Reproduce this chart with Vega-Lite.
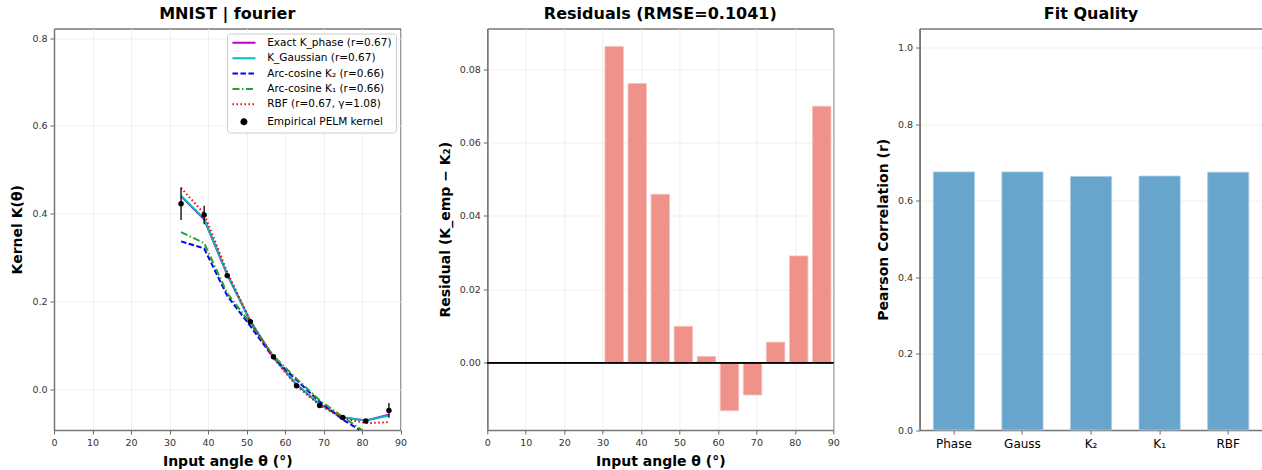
{
  "$schema": "https://vega.github.io/schema/vega-lite/v6.json",
  "autosize": {"type": "pad"},
  "padding": {"left": 10, "top": 4.5, "right": 0, "bottom": 0},
  "background": "white",
  "bounds": "flush",
  "spacing": 86.3,
  "resolve": {"scale": {"color": "independent", "strokeDash": "independent", "shape": "independent"}, "legend": {"color": "independent", "strokeDash": "independent", "shape": "independent"}},
  "config": {
    "font": "DejaVu Sans",
    "view": {"stroke": "#333333", "strokeWidth": 1},
    "title": {"fontSize": 16, "fontWeight": "bold", "font": "DejaVu Sans", "color": "black", "offset": 7},
    "axis": {
      "labelFont": "DejaVu Sans", "labelFontSize": 9.5, "labelColor": "#333333",
      "titleFont": "DejaVu Sans", "titleFontSize": 14, "titleFontWeight": "bold", "titleColor": "black",
      "gridColor": "#ebebeb", "gridWidth": 0.8,
      "domainColor": "#777777", "domainWidth": 1.5,
      "tickColor": "#666666", "tickSize": 4, "tickWidth": 1,
      "labelPadding": 3, "titlePadding": 7, "labelOverlap": false
    },
    "axisX": {"titlePadding": 8, "labelFlush": false},
    "legend": {
      "labelFont": "DejaVu Sans", "labelFontSize": 10.5, "labelColor": "black",
      "padding": 4, "fillColor": "white", "strokeColor": "#cccccc", "cornerRadius": 3,
      "rowPadding": 4.4, "symbolSize": 25, "symbolOffset": 7.7, "labelOffset": 18,
      "symbolStrokeWidth": 2, "offset": 5, "orient": "top-right"
    }
  },
  "datasets": {
    "lines": [
      {"series": "Exact K_phase (r=0.67)", "theta": 33, "K": 0.440},
      {"series": "Exact K_phase (r=0.67)", "theta": 39, "K": 0.387},
      {"series": "Exact K_phase (r=0.67)", "theta": 45, "K": 0.261},
      {"series": "Exact K_phase (r=0.67)", "theta": 51, "K": 0.155},
      {"series": "Exact K_phase (r=0.67)", "theta": 57, "K": 0.073},
      {"series": "Exact K_phase (r=0.67)", "theta": 63, "K": 0.011},
      {"series": "Exact K_phase (r=0.67)", "theta": 69, "K": -0.034},
      {"series": "Exact K_phase (r=0.67)", "theta": 75, "K": -0.064},
      {"series": "Exact K_phase (r=0.67)", "theta": 81, "K": -0.071},
      {"series": "Exact K_phase (r=0.67)", "theta": 87, "K": -0.058},
      {"series": "K_Gaussian (r=0.67)", "theta": 33, "K": 0.441},
      {"series": "K_Gaussian (r=0.67)", "theta": 39, "K": 0.389},
      {"series": "K_Gaussian (r=0.67)", "theta": 45, "K": 0.262},
      {"series": "K_Gaussian (r=0.67)", "theta": 51, "K": 0.155},
      {"series": "K_Gaussian (r=0.67)", "theta": 57, "K": 0.073},
      {"series": "K_Gaussian (r=0.67)", "theta": 63, "K": 0.011},
      {"series": "K_Gaussian (r=0.67)", "theta": 69, "K": -0.034},
      {"series": "K_Gaussian (r=0.67)", "theta": 75, "K": -0.064},
      {"series": "K_Gaussian (r=0.67)", "theta": 81, "K": -0.071},
      {"series": "K_Gaussian (r=0.67)", "theta": 87, "K": -0.060},
      {"series": "Arc-cosine K₂ (r=0.66)", "theta": 33, "K": 0.337},
      {"series": "Arc-cosine K₂ (r=0.66)", "theta": 39, "K": 0.321},
      {"series": "Arc-cosine K₂ (r=0.66)", "theta": 45, "K": 0.213},
      {"series": "Arc-cosine K₂ (r=0.66)", "theta": 51, "K": 0.144},
      {"series": "Arc-cosine K₂ (r=0.66)", "theta": 57, "K": 0.072},
      {"series": "Arc-cosine K₂ (r=0.66)", "theta": 63, "K": 0.021},
      {"series": "Arc-cosine K₂ (r=0.66)", "theta": 69, "K": -0.028},
      {"series": "Arc-cosine K₂ (r=0.66)", "theta": 75, "K": -0.069},
      {"series": "Arc-cosine K₂ (r=0.66)", "theta": 81, "K": -0.101},
      {"series": "Arc-cosine K₂ (r=0.66)", "theta": 87, "K": -0.118},
      {"series": "Arc-cosine K₁ (r=0.66)", "theta": 33, "K": 0.358},
      {"series": "Arc-cosine K₁ (r=0.66)", "theta": 39, "K": 0.333},
      {"series": "Arc-cosine K₁ (r=0.66)", "theta": 45, "K": 0.219},
      {"series": "Arc-cosine K₁ (r=0.66)", "theta": 51, "K": 0.150},
      {"series": "Arc-cosine K₁ (r=0.66)", "theta": 57, "K": 0.076},
      {"series": "Arc-cosine K₁ (r=0.66)", "theta": 63, "K": 0.024},
      {"series": "Arc-cosine K₁ (r=0.66)", "theta": 69, "K": -0.025},
      {"series": "Arc-cosine K₁ (r=0.66)", "theta": 75, "K": -0.063},
      {"series": "Arc-cosine K₁ (r=0.66)", "theta": 81, "K": -0.099},
      {"series": "Arc-cosine K₁ (r=0.66)", "theta": 87, "K": -0.125},
      {"series": "RBF (r=0.67, γ=1.08)", "theta": 33, "K": 0.459},
      {"series": "RBF (r=0.67, γ=1.08)", "theta": 39, "K": 0.400},
      {"series": "RBF (r=0.67, γ=1.08)", "theta": 45, "K": 0.267},
      {"series": "RBF (r=0.67, γ=1.08)", "theta": 51, "K": 0.156},
      {"series": "RBF (r=0.67, γ=1.08)", "theta": 57, "K": 0.071},
      {"series": "RBF (r=0.67, γ=1.08)", "theta": 63, "K": 0.008},
      {"series": "RBF (r=0.67, γ=1.08)", "theta": 69, "K": -0.036},
      {"series": "RBF (r=0.67, γ=1.08)", "theta": 75, "K": -0.066},
      {"series": "RBF (r=0.67, γ=1.08)", "theta": 81, "K": -0.077},
      {"series": "RBF (r=0.67, γ=1.08)", "theta": 87, "K": -0.075}
    ],
    "emp": [
      {"series": "Empirical PELM kernel", "theta": 33, "K": 0.423, "err": 0.037},
      {"series": "Empirical PELM kernel", "theta": 39, "K": 0.397, "err": 0.021},
      {"series": "Empirical PELM kernel", "theta": 45, "K": 0.259, "err": 0.006},
      {"series": "Empirical PELM kernel", "theta": 51, "K": 0.154, "err": 0.004},
      {"series": "Empirical PELM kernel", "theta": 57, "K": 0.074, "err": 0.003},
      {"series": "Empirical PELM kernel", "theta": 63, "K": 0.008, "err": 0.003},
      {"series": "Empirical PELM kernel", "theta": 69, "K": -0.037, "err": 0.003},
      {"series": "Empirical PELM kernel", "theta": 75, "K": -0.064, "err": 0.003},
      {"series": "Empirical PELM kernel", "theta": 81, "K": -0.072, "err": 0.003},
      {"series": "Empirical PELM kernel", "theta": 87, "K": -0.048, "err": 0.017}
    ],
    "resid": [
      {"theta": 33, "resid": 0.0862},
      {"theta": 39, "resid": 0.0761},
      {"theta": 45, "resid": 0.0459},
      {"theta": 51, "resid": 0.0099},
      {"theta": 57, "resid": 0.0017},
      {"theta": 63, "resid": -0.0131},
      {"theta": 69, "resid": -0.0088},
      {"theta": 75, "resid": 0.0056},
      {"theta": 81, "resid": 0.0291},
      {"theta": 87, "resid": 0.0699}
    ],
    "fit": [
      {"model": "Phase", "r": 0.675},
      {"model": "Gauss", "r": 0.675},
      {"model": "K₂", "r": 0.663},
      {"model": "K₁", "r": 0.664},
      {"model": "RBF", "r": 0.674}
    ]
  },
  "hconcat": [
    {
      "width": 346.5,
      "height": 401.5,
      "title": "MNIST | fourier",
      "layer": [
        {
          "data": {"name": "lines"},
          "mark": {"type": "line", "clip": true, "strokeWidth": 2},
          "encoding": {
            "x": {"field": "theta", "type": "quantitative", "scale": {"domain": [0, 90], "nice": false, "zero": false}, "axis": {"values": [0, 10, 20, 30, 40, 50, 60, 70, 80, 90], "title": "Input angle θ (°)"}},
            "y": {"field": "K", "type": "quantitative", "scale": {"domain": [-0.0927, 0.822], "nice": false, "zero": false}, "axis": {"values": [0, 0.2, 0.4, 0.6, 0.8], "format": ".1f", "title": "Kernel K(θ)"}},
            "color": {
              "field": "series", "type": "nominal", "sort": null,
              "scale": {"domain": ["Exact K_phase (r=0.67)", "K_Gaussian (r=0.67)", "Arc-cosine K₂ (r=0.66)", "Arc-cosine K₁ (r=0.66)", "RBF (r=0.67, γ=1.08)", "Empirical PELM kernel"],
                        "range": ["#bf00bf", "#00bfbf", "#0000ff", "#2ca02c", "#ff0000", "#000000"]},
              "legend": {"title": null}
            },
            "strokeDash": {
              "field": "series", "type": "nominal", "sort": null,
              "scale": {"domain": ["Exact K_phase (r=0.67)", "K_Gaussian (r=0.67)", "Arc-cosine K₂ (r=0.66)", "Arc-cosine K₁ (r=0.66)", "RBF (r=0.67, γ=1.08)", "Empirical PELM kernel"],
                        "range": [[1, 0], [1, 0], [5.5, 2.5], [7, 2.5, 1.5, 2.5], [1.5, 2.5], [1, 0]]},
              "legend": {"title": null}
            }
          }
        },
        {
          "mark": {"type": "rule", "color": "#b0b0b0", "strokeDash": [2, 2], "strokeWidth": 0.8},
          "encoding": {
            "y": {"datum": 0, "type": "quantitative", "axis": {"values": [0, 0.2, 0.4, 0.6, 0.8], "format": ".1f", "title": "Kernel K(θ)"}}
          }
        },
        {
          "data": {"name": "emp"},
          "mark": {"type": "errorbar", "color": "black", "thickness": 1.3},
          "encoding": {
            "x": {"field": "theta", "type": "quantitative", "axis": {"values": [0, 10, 20, 30, 40, 50, 60, 70, 80, 90], "title": "Input angle θ (°)"}},
            "y": {"field": "K", "type": "quantitative", "title": "Kernel K(θ)", "axis": {"values": [0, 0.2, 0.4, 0.6, 0.8], "format": ".1f", "title": "Kernel K(θ)"}},
            "yError": {"field": "err"}
          }
        },
        {
          "data": {"name": "emp"},
          "mark": {"type": "point", "filled": true, "size": 30, "opacity": 1},
          "encoding": {
            "x": {"field": "theta", "type": "quantitative", "axis": {"values": [0, 10, 20, 30, 40, 50, 60, 70, 80, 90], "title": "Input angle θ (°)"}},
            "y": {"field": "K", "type": "quantitative", "axis": {"values": [0, 0.2, 0.4, 0.6, 0.8], "format": ".1f", "title": "Kernel K(θ)"}},
            "color": {"field": "series", "type": "nominal", "sort": null, "legend": {"title": null}},
            "shape": {
              "field": "series", "type": "nominal", "sort": null,
              "scale": {"domain": ["Exact K_phase (r=0.67)", "K_Gaussian (r=0.67)", "Arc-cosine K₂ (r=0.66)", "Arc-cosine K₁ (r=0.66)", "RBF (r=0.67, γ=1.08)", "Empirical PELM kernel"],
                        "range": ["M-4.6,0H4.6", "M-4.6,0H4.6", "M-4.6,0H4.6", "M-4.6,0H4.6", "M-4.6,0H4.6", "circle"]},
              "legend": {"title": null}
            }
          }
        }
      ]
    },
    {
      "width": 346,
      "height": 401.5,
      "title": "Residuals (RMSE=0.1041)",
      "data": {"name": "resid"},
      "layer": [
        {
          "mark": {"type": "bar", "width": 18.4, "color": "#ef928a", "stroke": "#f6bfba", "strokeWidth": 0.8},
          "encoding": {
            "x": {"field": "theta", "type": "quantitative", "scale": {"domain": [0, 90], "nice": false, "zero": false, "padding": 0}, "axis": {"values": [0, 10, 20, 30, 40, 50, 60, 70, 80, 90], "title": "Input angle θ (°)"}},
            "y": {"field": "resid", "type": "quantitative", "scale": {"domain": [-0.01835, 0.0911], "nice": false, "zero": true}, "axis": {"values": [0, 0.02, 0.04, 0.06, 0.08], "format": ".2f", "title": "Residual (K_emp − K₂)"}}
          }
        },
        {
          "mark": {"type": "rule", "color": "black", "strokeWidth": 1},
          "encoding": {"y": {"datum": 0, "type": "quantitative"}}
        }
      ]
    },
    {
      "width": 342.9,
      "height": 401.5,
      "title": "Fit Quality",
      "data": {"name": "fit"},
      "mark": {"type": "bar", "color": "#67a5cd", "stroke": "#a9cce3", "strokeWidth": 0.8},
      "encoding": {
        "x": {"field": "model", "type": "nominal", "sort": null,
              "scale": {"paddingInner": 0.4, "paddingOuter": 0.2},
              "axis": {"title": null, "labelAngle": 0, "labelFontSize": 12, "labelColor": "black", "labelPadding": 4, "grid": false}},
        "y": {"field": "r", "type": "quantitative", "scale": {"domain": [0, 1.05], "nice": false}, "axis": {"values": [0, 0.2, 0.4, 0.6, 0.8, 1.0], "format": ".1f", "title": "Pearson Correlation (r)"}}
      }
    }
  ]
}
